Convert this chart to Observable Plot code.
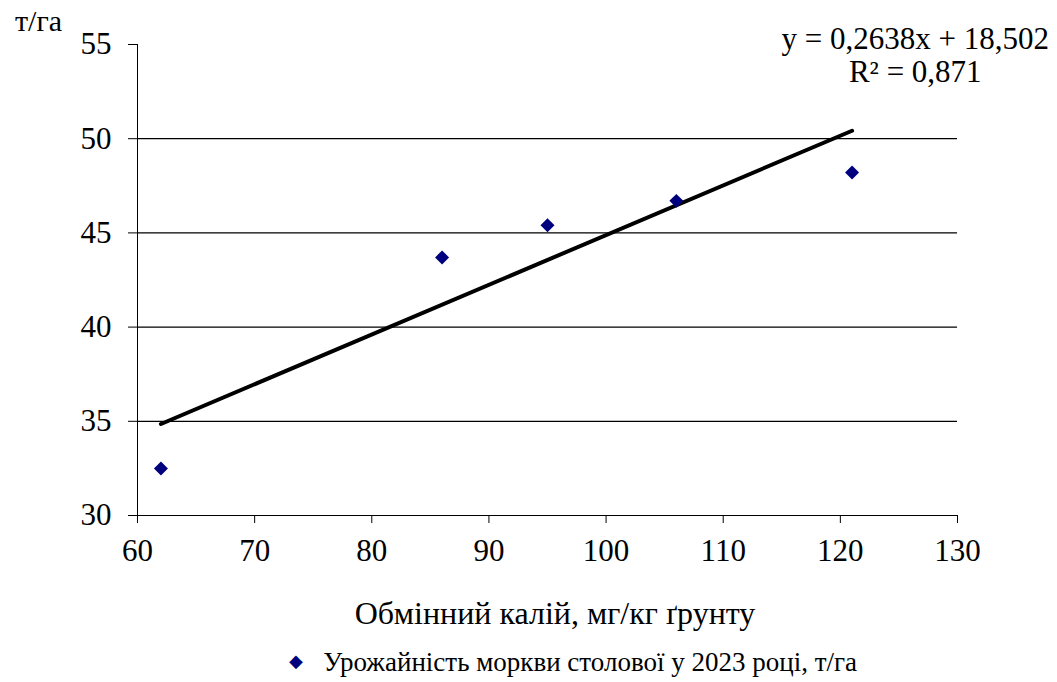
<!DOCTYPE html>
<html>
<head>
<meta charset="utf-8">
<script src="https://cdn.jsdelivr.net/npm/d3@7"></script>
<script src="https://cdn.jsdelivr.net/npm/@observablehq/plot@0.6"></script>
<style>
  html, body { margin: 0; padding: 0; background: #fff; }
  #wrap { position: relative; width: 1057px; height: 682px; font-family: "Liberation Serif", "Times New Roman", serif; color: #000; }
  .t { position: absolute; white-space: nowrap; }
</style>
</head>
<body>
<div id="wrap">
  <div id="chart"></div>
  <div class="t" id="unit" style="left:15px; top:4px; font-size:30px;">т/га</div>
  <div class="t" id="eq" style="right:8px; top:22px; font-size:31px; text-align:center; line-height:33px;">y = 0,2638x + 18,502<br>R² = 0,871</div>
  <div class="t" id="xlab" style="left:0; width:1110px; text-align:center; top:595px; font-size:32px;">Обмінний калій, мг/кг ґрунту</div>
  <div class="t" id="legend" style="left:289px; top:647px; font-size:27px;"><span style="color:#00007f; font-size:18px; position:relative; top:-4px;">◆</span>&nbsp;&nbsp;&nbsp;Урожайність моркви столової у 2023 році, т/га</div>
</div>
<script>
const potassium = [62, 86, 95, 106, 121];
const yieldVals = [32.5, 43.7, 45.4, 46.7, 48.2];
const xTicks = [60, 70, 80, 90, 100, 110, 120, 130];
const yTicks = [30, 35, 40, 45, 50, 55];
const gridY = [35, 40, 45, 50];

const data = potassium.map((x, i) => ({x, y: yieldVals[i]}));

const chart = Plot.plot({
  width: 1057,
  height: 682,
  marginLeft: 137,
  marginRight: 100,
  marginTop: 44,
  marginBottom: 167,
  x: {domain: [60, 130]},
  y: {domain: [30, 55]},
  style: {fontFamily: '"Liberation Serif", "Times New Roman", serif', fontSize: "31px", color: "#000", background: "transparent"},
  marks: [
    Plot.ruleY(gridY, {stroke: "#000", strokeWidth: 1.2}),
    Plot.ruleX([60], {stroke: "#000", strokeWidth: 1}),
    Plot.ruleY([30], {stroke: "#000", strokeWidth: 1.2}),
    Plot.axisY({ticks: yTicks, tickSize: 9, tickPadding: 17, label: null, fontSize: 31}),
    Plot.axisX({ticks: xTicks, tickSize: 8, tickPadding: 15, label: null, fontSize: 31}),
    Plot.linearRegressionY(data, {x: "x", y: "y", ci: 0, stroke: "#000", strokeWidth: 4}),
    Plot.dot(data, {x: "x", y: "y", symbol: "diamond2", fill: "#00007f", stroke: "none", r: 6.3})
  ]
});
document.getElementById("chart").appendChild(chart);
</script>
</body>
</html>
